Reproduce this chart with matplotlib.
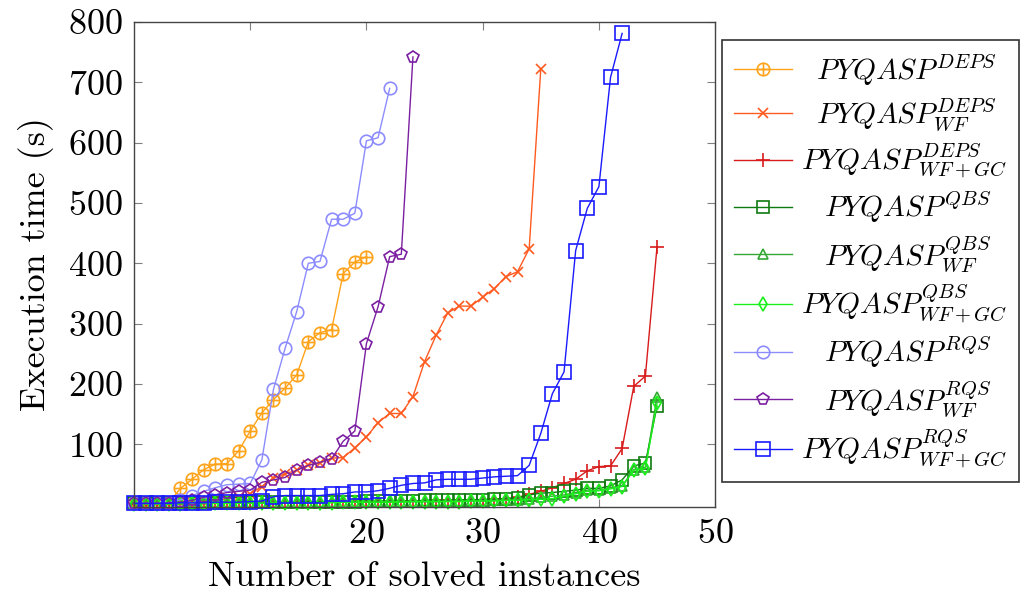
import matplotlib
matplotlib.use("Agg")
import matplotlib.pyplot as plt
from matplotlib.path import Path

plt.rcParams['font.family'] = 'serif'
plt.rcParams['font.serif'] = ['cmr10']
plt.rcParams['mathtext.fontset'] = 'cm'
plt.rcParams['axes.formatter.use_mathtext'] = True

# execution times (s), index = number of solved instances
deps = [2, 2, 2, 3, 27, 42, 58, 67, 68, 89, 122, 152, 174, 193, 215, 270, 285, 290, 383, 402, 411]
deps_wf = [1, 1, 2, 2, 3, 4, 5, 7, 9, 12, 18, 30, 44, 51, 57, 66, 69, 77, 78, 94,
           112, 136, 151, 151, 179, 237, 281, 318, 329, 329, 344, 358, 378, 386, 424, 722]
deps_wfgc = [1, 1, 1, 1, 1, 2, 2, 2, 2, 2, 3, 3, 3, 3, 3, 4, 4, 4, 4, 5,
             5, 5, 5, 6, 6, 6, 7, 7, 7, 8, 8, 9, 10, 12, 17, 22, 28, 35, 42, 56,
             63, 64, 93, 196, 213, 427]
qbs = [2, 2, 2, 2, 2, 3, 3, 3, 3, 3, 4, 4, 4, 4, 4, 5, 5, 5, 5, 5,
       6, 6, 6, 6, 6, 7, 7, 7, 8, 8, 8, 9, 10, 11, 16, 19, 20, 22, 24, 27,
       27, 31, 41, 64, 69, 163]
qbs_wf = [1, 1, 1, 1, 2, 2, 2, 2, 2, 2, 3, 3, 3, 3, 3, 3, 4, 4, 4, 4,
          4, 4, 5, 5, 5, 5, 5, 6, 6, 6, 6, 7, 7, 8, 10, 12, 14, 16, 20, 24,
          24, 28, 31, 58, 62, 179]
qbs_wfgc = [1, 1, 1, 1, 1, 2, 2, 2, 2, 2, 2, 2, 3, 3, 3, 3, 3, 3, 4, 4,
            4, 4, 4, 4, 5, 5, 5, 5, 5, 6, 6, 6, 7, 7, 8, 9, 10, 14, 18, 22,
            23, 26, 30, 57, 60, 168]
rqs = [2, 2, 2, 3, 8, 15, 22, 28, 33, 34, 35, 74, 191, 259, 320, 400, 403, 473, 473, 483,
       603, 608, 690]
rqs_wf = [2, 2, 2, 3, 4, 7, 12, 16, 20, 22, 24, 37, 41, 45, 57, 65, 70, 76, 105, 122,
          267, 328, 411, 415, 742]
rqs_wfgc = [2, 2, 2, 2, 3, 3, 3, 4, 4, 4, 5, 6, 13, 15, 15, 15, 15, 17, 18, 21,
            21, 23, 27, 32, 35, 36, 41, 42, 42, 42, 44, 46, 47, 48, 65, 118, 184, 220, 421, 491,
            527, 708, 781]

# leading \hspace centres the shorter entries like the pgfplots legend
labels = [r'$\hspace{0.6}PYQASP^{DEPS}$', r'$\hspace{0.6}PYQASP^{DEPS}_{WF}$',
          r'$PYQASP^{DEPS}_{WF+GC}$',
          r'$\hspace{0.9}PYQASP^{QBS}$', r'$\hspace{0.9}PYQASP^{QBS}_{WF}$',
          r'$PYQASP^{QBS}_{WF+GC}$',
          r'$\hspace{0.9}PYQASP^{RQS}$', r'$\hspace{0.9}PYQASP^{RQS}_{WF}$',
          r'$PYQASP^{RQS}_{WF+GC}$']

# circle with a plus inside
oplus = Path.make_compound_path(
    Path.unit_circle(),
    Path([(-1, 0), (1, 0), (0, -1), (0, 1)],
         [Path.MOVETO, Path.LINETO, Path.MOVETO, Path.LINETO]))

series = [deps, deps_wf, deps_wfgc, qbs, qbs_wf, qbs_wfgc, rqs, rqs_wf, rqs_wfgc]
colors = ['#FFA31A', '#FF5A1F', '#D81B1B', '#0F7A0F', '#33A833', '#1AF01A',
          '#8C8CFF', '#7B1FA2', '#1A1AFF']
markers = [oplus, 'x', '+', 's', '^', 'd', 'o', 'p', 's']
msizes = [9, 7.5, 10, 9, 7, 7, 9, 8.5, 9.5]

fig = plt.figure(figsize=(10.26, 5.93), dpi=100)
ax = fig.add_axes([0.1306, 0.145, 0.5664, 0.818])

for vals, lab, c, m, ms in zip(series, labels, colors, markers, msizes):
    ax.plot(range(len(vals)), vals, color=c, lw=1.0, marker=m, ms=ms,
            mfc='none', mec=c, mew=1.2, label=lab, clip_on=False)

ax.set_xlim(0, 50)
ax.set_ylim(-4, 800)
ax.set_xticks([10, 20, 30, 40, 50])
ax.set_yticks([100, 200, 300, 400, 500, 600, 700, 800])
ax.tick_params(direction='in', top=True, right=True, length=6, width=0.8,
               color='#808080', labelsize=26, pad=8)
for s in ax.spines.values():
    s.set_color('#444444')
    s.set_linewidth(1.0)

ax.set_xlabel('Number of solved instances', fontsize=26, labelpad=8)
ax.set_ylabel('Execution time (s)', fontsize=26, labelpad=10)

leg = ax.legend(loc='upper left', bbox_to_anchor=(0.704, 0.9325),
                bbox_transform=fig.transFigure, fontsize=21, frameon=True,
                fancybox=False, edgecolor='#333333', framealpha=1,
                handlelength=2.0, labelspacing=0.3, borderaxespad=0,
                borderpad=0.4, handletextpad=0.3)
leg.get_frame().set_linewidth(1.2)

fig.savefig('out.png', dpi=100)
